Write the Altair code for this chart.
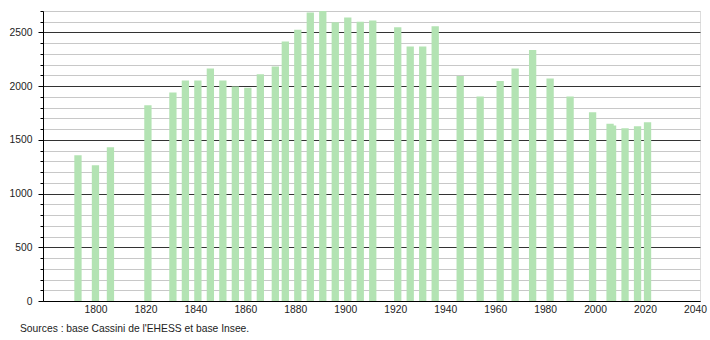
import altair as alt
import pandas as pd

years = [1793, 1800, 1806, 1821, 1831, 1836, 1841, 1846, 1851, 1856, 1861, 1866,
         1872, 1876, 1881, 1886, 1891, 1896, 1901, 1906, 1911, 1921, 1926, 1931,
         1936, 1946, 1954, 1962, 1968, 1975, 1982, 1990, 1999, 2006, 2007, 2012,
         2017, 2021]
population = [1357, 1264, 1431, 1822, 1942, 2054, 2054, 2165, 2054, 1998, 1986, 2110,
              2184, 2416, 2525, 2686, 2700, 2596, 2639, 2599, 2612, 2549, 2370, 2370,
              2559, 2094, 1905, 2048, 2165, 2336, 2072, 1905, 1757, 1651, 1633, 1608,
              1626, 1664]
x_ticks = list(range(1800, 2041, 20))
y_ticks = list(range(0, 2701, 100))
source = "Sources : base Cassini de l'EHESS et base Insee."

df = pd.DataFrame({"year": years, "pop": population})
FONT = "Liberation Sans"
FS = 10.3

chart = alt.Chart(df).mark_bar(size=7.3, color="#b3e3b3").encode(
    x=alt.X("year:Q",
            scale=alt.Scale(domain=[1779, 2042], nice=False, zero=False, padding=0),
            axis=alt.Axis(values=x_ticks, format="d", title=None, grid=False,
                          ticks=False, labelPadding=3, domainColor="#000",
                          labelFont=FONT, labelFontSize=FS, labelColor="#222")),
    y=alt.Y("pop:Q",
            scale=alt.Scale(domain=[0, 2700], nice=False, padding=0),
            axis=alt.Axis(values=y_ticks, format="d", title=None,
                          labelExpr="datum.value % 500 === 0 ? datum.label : ''",
                          gridColor={"condition": {"test": "datum.value % 500 === 0", "value": "#333"}, "value": "#c8c8c8"},
                          tickSize={"condition": {"test": "datum.value % 500 === 0", "value": 5}, "value": 3},
                          tickColor="#000", domainColor="#000",
                          labelPadding=6, labelFont=FONT, labelFontSize=FS, labelColor="#222")),
).properties(
    width=657, height=290,
    padding={"left": 43, "top": 11, "right": 10, "bottom": 39},
    autosize=alt.AutoSizeParams(type="none"),
    title=alt.TitleParams(text=source, orient="bottom", anchor="start", frame="group",
                          dx=-23, offset=10, font=FONT, fontSize=FS,
                          fontWeight="normal", color="#222"),
).configure_view(stroke=None).configure(background="white")

chart.save("out.html", embed_options={"renderer": "svg", "actions": False})
